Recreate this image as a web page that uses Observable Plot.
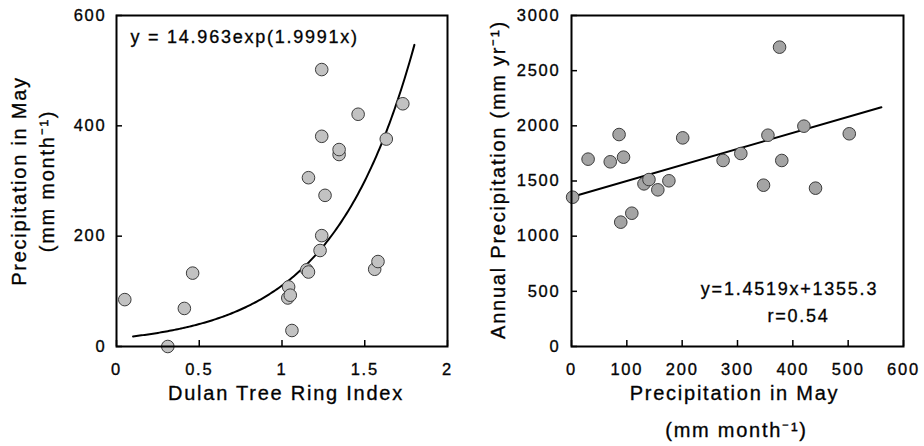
<!DOCTYPE html>
<html><head><meta charset="utf-8">
<script src="https://cdn.jsdelivr.net/npm/d3@7"></script>
<script src="https://cdn.jsdelivr.net/npm/@observablehq/plot@0.6"></script>
<style>
html,body{margin:0;padding:0;background:#fff;}
#wrap{display:flex;width:924px;height:446px;overflow:hidden;}
#wrap svg text{stroke:#111;stroke-width:0.35px;}
</style></head><body><div id="wrap"></div>
<script>
// Left panel: Dulan tree ring index vs May precipitation
const ringIndex = [0.05, 0.31, 0.41, 0.46, 1.04, 1.035, 1.05, 1.06, 1.15, 1.16, 1.16, 1.23, 1.24, 1.24, 1.24, 1.26, 1.345, 1.345, 1.46, 1.56, 1.58, 1.63, 1.73];
const mayPrecipLeft = [85, 0, 69, 133, 108, 88, 93, 29, 139, 135, 306, 174, 201, 502, 381, 274, 348, 357, 421, 140, 154, 376, 440];
// Right panel: May precipitation vs annual precipitation
const mayPrecipRight = [2, 30, 70, 86, 94, 89, 109, 131, 140, 156, 176, 201, 274, 306, 347, 355, 376, 380, 420, 441, 502];
const annualPrecip = [1353, 1698, 1674, 1921, 1716, 1127, 1208, 1474, 1513, 1420, 1502, 1891, 1686, 1749, 1462, 1915, 2713, 1686, 1997, 1435, 1928];

// Fitted equations as printed on the chart
const expA = 14.963, expB = 1.9991, expRange = [0.1, 1.8];
const linSlope = 1.4519, linIntercept = 1355.3, linRange = [0, 560];
const eqLeft = "y = 14.963exp(1.9991x)";
const eqRight = "y=1.4519x+1355.3";
const rText = "r=0.54";

// Axis ticks and labels
const xTicksLeft = [0, 0.5, 1, 1.5, 2];
const yTicksLeft = [0, 200, 400, 600];
const xTicksRight = [0, 100, 200, 300, 400, 500, 600];
const yTicksRight = [0, 500, 1000, 1500, 2000, 2500, 3000];
const xLabelLeft = "Dulan Tree Ring Index";
const yLabelLeft1 = "Precipitation in May";
const yLabelLeft2 = "(mm month\u207B\u00B9)";
const xLabelRight1 = "Precipitation in May";
const xLabelRight2 = "(mm month\u207B\u00B9)";
const yLabelRight = "Annual Precipitation (mm yr\u207B\u00B9)";

const leftData = ringIndex.map((x, i) => ({x, y: mayPrecipLeft[i]}));
const rightData = mayPrecipRight.map((x, i) => ({x, y: annualPrecip[i]}));
const curve = d3.range(expRange[0], expRange[1] + 1e-9, 0.01).map(x => ({x, y: expA * Math.exp(expB * x)}));
const fitLine = linRange.map(x => ({x, y: linSlope * x + linIntercept}));

const font = {fontFamily: "'Liberation Sans', Arial, sans-serif", fontSize: "16px", letterSpacing: "0.11em", color: "black", background: "white"};
const T = {textAnchor: "middle", lineAnchor: "middle", fill: "black"};

const left = Plot.plot({
  width: 462, height: 446,
  marginLeft: 116, marginRight: 15, marginTop: 15, marginBottom: 100,
  style: font,
  x: {domain: [0, 2]},
  y: {domain: [0, 600]},
  marks: [
    Plot.axisY(yTicksLeft, {anchor: "left", tickSize: -6, tickPadding: 16, fontSize: 16.5, strokeWidth: 1.5, label: null, tickFormat: d => String(d)}),
    Plot.axisX(xTicksLeft, {anchor: "bottom", tickSize: -6, tickPadding: 23, fontSize: 16.5, strokeWidth: 1.5, label: null, tickFormat: d => String(d)}),
    Plot.line(curve, {x: "x", y: "y", stroke: "black", strokeWidth: 2}),
    Plot.dot(leftData, {x: "x", y: "y", r: 6.3, fill: "#c2c2c2", stroke: "#3c3c3c", strokeWidth: 1}),
    Plot.frame({stroke: "black", strokeWidth: 2}),
    Plot.text([eqLeft], {...T, textAnchor: "start", frameAnchor: "top-left", dx: 14, dy: 22, fontSize: 18}),
    Plot.text([xLabelLeft], {...T, frameAnchor: "bottom", dx: 4, dy: 47.5, fontSize: 20}),
    Plot.text([yLabelLeft1], {...T, frameAnchor: "left", rotate: -90, dx: -96.5, fontSize: 20}),
    Plot.text([yLabelLeft2], {...T, frameAnchor: "left", rotate: -90, dx: -68.5, fontSize: 20})
  ]
});

const right = Plot.plot({
  width: 462, height: 446,
  marginLeft: 109, marginRight: 21, marginTop: 15, marginBottom: 100,
  style: font,
  x: {domain: [0, 600]},
  y: {domain: [0, 3000]},
  marks: [
    Plot.axisY(yTicksRight, {anchor: "left", tickSize: -6, tickPadding: 17, fontSize: 16.5, strokeWidth: 1.5, label: null, tickFormat: d => String(d)}),
    Plot.axisX(xTicksRight, {anchor: "bottom", tickSize: -6, tickPadding: 23, fontSize: 16.5, strokeWidth: 1.5, label: null, tickFormat: d => String(d)}),
    Plot.line(fitLine, {x: "x", y: "y", stroke: "black", strokeWidth: 2}),
    Plot.dot(rightData, {x: "x", y: "y", r: 6.3, fill: "#a4a4a4", stroke: "#3c3c3c", strokeWidth: 1}),
    Plot.frame({stroke: "black", strokeWidth: 2}),
    Plot.text([eqRight], {...T, frameAnchor: "top-left", dx: 218, dy: 274, fontSize: 18}),
    Plot.text([rText], {...T, frameAnchor: "top-left", dx: 227, dy: 301, fontSize: 18}),
    Plot.text([xLabelRight1], {...T, frameAnchor: "bottom", dx: -3, dy: 47.5, fontSize: 20}),
    Plot.text([xLabelRight2], {...T, frameAnchor: "bottom", dx: -1, dy: 84.5, fontSize: 20}),
    Plot.text([yLabelRight], {...T, frameAnchor: "left", rotate: -90, dx: -72.5, dy: -1.5, fontSize: 20})
  ]
});

document.getElementById("wrap").append(left, right);
</script></body></html>
